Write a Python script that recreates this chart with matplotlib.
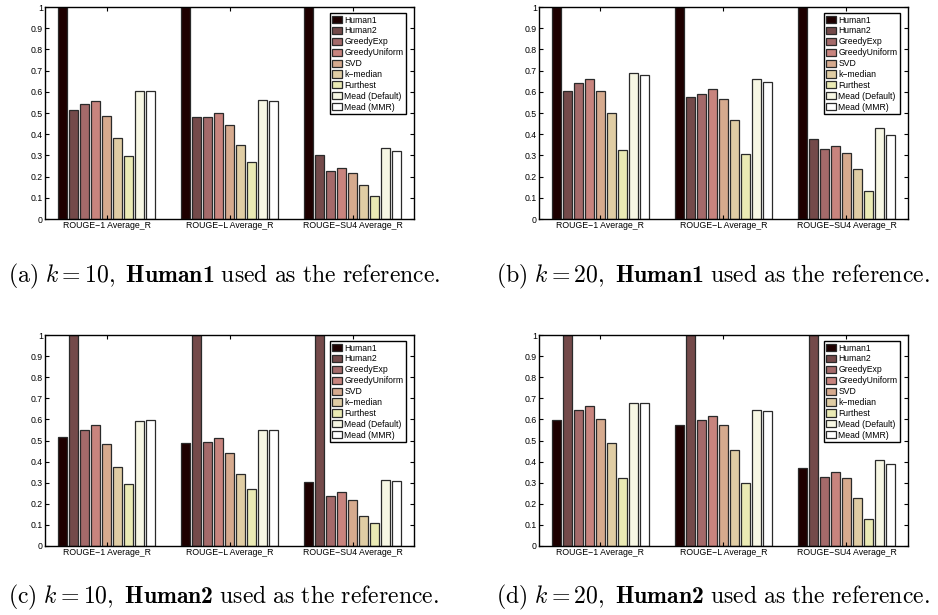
import numpy as np
import matplotlib.pyplot as plt

plt.rcParams["font.family"] = "Liberation Sans"
plt.rcParams["mathtext.fontset"] = "custom"
plt.rcParams["mathtext.rm"] = "cmr10"
plt.rcParams["mathtext.it"] = "cmmi10"
plt.rcParams["mathtext.bf"] = "cmb10"

methods = ["Human1", "Human2", "GreedyExp", "GreedyUniform", "SVD",
           "k\u2212median", "Furthest", "Mead (Default)", "Mead (MMR)"]
groups = ["ROUGE\u22121 Average_R", "ROUGE\u2212L Average_R", "ROUGE\u2212SU4 Average_R"]
colors = ["#1e0000", "#744a4a", "#a46a6a", "#c8847e", "#d6aa8e",
          "#e0cda4", "#eaeab4", "#f7f7e4", "#ffffff"]

# rows = methods, columns = ROUGE-1, ROUGE-L, ROUGE-SU4
k10_human1 = [
    [1.00, 1.00, 1.00],
    [0.514, 0.483, 0.302],
    [0.542, 0.480, 0.226],
    [0.557, 0.498, 0.239],
    [0.484, 0.442, 0.219],
    [0.381, 0.347, 0.159],
    [0.299, 0.270, 0.108],
    [0.605, 0.561, 0.335],
    [0.602, 0.557, 0.319],
]
k20_human1 = [
    [1.00, 1.00, 1.00],
    [0.602, 0.575, 0.377],
    [0.642, 0.590, 0.329],
    [0.660, 0.612, 0.344],
    [0.602, 0.566, 0.310],
    [0.498, 0.467, 0.236],
    [0.325, 0.305, 0.134],
    [0.690, 0.659, 0.431],
    [0.681, 0.645, 0.398],
]
k10_human2 = [
    [0.519, 0.487, 0.304],
    [1.00, 1.00, 1.00],
    [0.552, 0.492, 0.235],
    [0.573, 0.513, 0.257],
    [0.483, 0.440, 0.218],
    [0.375, 0.341, 0.140],
    [0.295, 0.268, 0.110],
    [0.593, 0.549, 0.315],
    [0.596, 0.549, 0.306],
]
k20_human2 = [
    [0.596, 0.573, 0.372],
    [1.00, 1.00, 1.00],
    [0.644, 0.596, 0.326],
    [0.664, 0.617, 0.349],
    [0.604, 0.573, 0.320],
    [0.487, 0.457, 0.226],
    [0.320, 0.300, 0.129],
    [0.680, 0.647, 0.410],
    [0.680, 0.642, 0.391],
]

panels = [
    (k10_human1, [0.048, 0.6439, 0.3934, 0.3447],
     r"$\mathrm{(a)\ }k=10\mathrm{,\ }\mathbf{Human1}\mathrm{\ used\ as\ the\ reference.}$", (0.009, 0.551)),
    (k20_human1, [0.5746, 0.6439, 0.3934, 0.3447],
     r"$\mathrm{(b)\ }k=20\mathrm{,\ }\mathbf{Human1}\mathrm{\ used\ as\ the\ reference.}$", (0.529, 0.551)),
    (k10_human2, [0.048, 0.1122, 0.3934, 0.343],
     r"$\mathrm{(c)\ }k=10\mathrm{,\ }\mathbf{Human2}\mathrm{\ used\ as\ the\ reference.}$", (0.009, 0.029)),
    (k20_human2, [0.5746, 0.1122, 0.3934, 0.343],
     r"$\mathrm{(d)\ }k=20\mathrm{,\ }\mathbf{Human2}\mathrm{\ used\ as\ the\ reference.}$", (0.529, 0.029)),
]

fig = plt.figure(figsize=(9.38, 6.15), dpi=100)

x = np.arange(1, len(groups) + 1)
n = len(methods)
groupwidth = 0.8
slot = groupwidth / n

for data, pos, caption, cpos in panels:
    ax = fig.add_axes(pos)
    vals = np.array(data)
    for i in range(n):
        xc = x - groupwidth / 2 + (i + 0.5) * slot
        ax.bar(xc, vals[i], width=slot * 0.8, color=colors[i],
               edgecolor="#2a2a2a", linewidth=0.9, label=methods[i])
    ax.set_xlim(0.5, 3.5)
    ax.set_ylim(0, 1)
    ax.set_xticks(x)
    ax.set_xticklabels(groups, fontsize=6.3)
    ax.set_yticks(np.arange(0, 1.01, 0.1))
    ax.set_yticklabels(["0"] + ["%.1f" % v for v in np.arange(0.1, 0.95, 0.1)] + ["1"], fontsize=6.3)
    ax.tick_params(direction="in", top=True, right=True, length=3, width=0.8, pad=1.5)
    for s in ax.spines.values():
        s.set_linewidth(1.0)
    leg = ax.legend(loc="upper right", bbox_to_anchor=(0.978, 0.972), fontsize=6.2,
                    fancybox=False, framealpha=1, edgecolor="black",
                    handlelength=1.2, handleheight=0.9, handletextpad=0.2,
                    labelspacing=0.22, borderpad=0.3, borderaxespad=0)
    leg.get_frame().set_linewidth(1.0)
    fig.text(cpos[0], cpos[1], caption, fontsize=17.1, ha="left", va="center")

fig.savefig("out.png", dpi=100)
